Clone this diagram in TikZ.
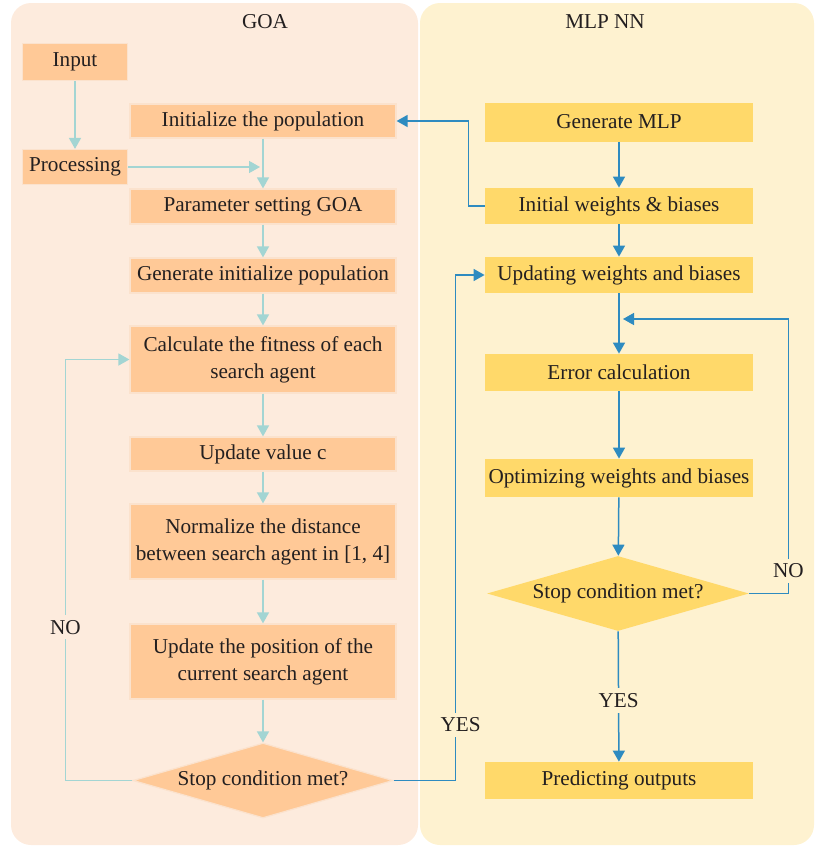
\documentclass[tikz,border=0pt]{standalone}
\usepackage{fontspec}
\setmainfont{Liberation Serif}
\usetikzlibrary{arrows.meta,shapes.geometric}
\definecolor{goabg}{HTML}{FDEBDD}
\definecolor{mlpbg}{HTML}{FEF2D0}
\definecolor{goabox}{HTML}{FFC997}
\definecolor{goaedge}{HTML}{FBE2CD}
\definecolor{mlpbox}{HTML}{FFD96A}
\definecolor{goaline}{HTML}{A3D5D3}
\definecolor{mlpline}{HTML}{2E8BC0}
\definecolor{inktext}{HTML}{231F20}

\begin{document}
\begin{tikzpicture}[x=0.5pt,y=-0.5pt,text=inktext,
  font=\fontsize{10.6}{13.5}\selectfont,
  gbox/.style={rectangle,fill=goabox,draw=goaedge,line width=0.6pt,align=center,inner sep=0pt,minimum width=133pt},
  mbox/.style={rectangle,fill=mlpbox,align=center,inner sep=0pt,minimum width=134pt},
  gdia/.style={diamond,aspect=3.5,inner sep=0pt,minimum width=130pt,minimum height=37.5pt,fill=goabox,draw=goaedge,line width=0.6pt},
  mdia/.style={diamond,aspect=3.5,inner sep=0pt,minimum width=131pt,minimum height=37.5pt,fill=mlpbox},
  garr/.style={draw=goaline,line width=0.75pt,-{Triangle[width=6pt,length=5.5pt]}},
  marr/.style={draw=mlpline,line width=0.75pt,-{Triangle[width=6pt,length=5.5pt]}},
  lbl/.style={inner sep=2.5pt}]
\useasboundingbox (0,0) rectangle (817,846);
% panels
\fill[goabg,rounded corners=10pt] (11,3) rectangle (418,845);
\fill[mlpbg,rounded corners=10pt] (420,3) rectangle (814,845);
\node (tgoa) at (265,22) {GOA};
\node (tmlp) at (605,22) {MLP NN};
% GOA side
\node[gbox,minimum width=52.5pt,minimum height=18.5pt] (inp) at (75,62) {Input};
\node[gbox,minimum width=52.5pt,minimum height=17.5pt] (proc) at (75,167) {Processing};
\node[gbox,minimum height=17pt] (init) at (263,121) {Initialize the population};
\node[gbox,minimum height=17.5pt] (par) at (263,206.5) {Parameter setting GOA};
\node[gbox,minimum height=17.5pt] (gen) at (263,275.5) {Generate initialize population};
\node[gbox,minimum height=33.5pt] (fit) at (263,359.5) {Calculate the fitness of each\\search agent};
\node[gbox,minimum height=17pt] (upc) at (263,454) {Update value c};
\node[gbox,minimum height=37.5pt] (norm) at (263,541.5) {Normalize the distance\\between search agent in [1, 4]};
\node[gbox,minimum height=37.5pt] (pos) at (263,661.5) {Update the position of the\\current search agent};
\node[gdia] (dgoa) at (263,780.5) {Stop condition met?};
\coordinate (gjoin) at (260,167);
% MLP side
\node[mbox,minimum height=19.5pt] (gmlp) at (619,122) {Generate MLP};
\node[mbox,minimum height=18pt] (iw) at (619,206) {Initial weights \& biases};
\node[mbox,minimum height=18pt] (upw) at (619,275) {Updating weights and biases};
\node[mbox,minimum height=18.5pt] (err) at (619,372.5) {Error calculation};
\node[mbox,minimum height=19pt] (opt) at (619,478) {Optimizing weights and biases};
\node[mdia] (dmlp) at (618,593.5) {Stop condition met?};
\node[mbox,minimum height=18.5pt] (pred) at (619,780.5) {Predicting outputs};
\coordinate (mjoin) at (623,319);
% GOA connectors
\draw[garr] (inp) -- (proc);
\draw[garr] (proc) -- (gjoin);
\draw[garr] (init) -- (par);
\draw[garr] (par) -- (gen);
\draw[garr] (gen) -- (fit);
\draw[garr] (fit) -- (upc);
\draw[garr] (upc) -- (norm);
\draw[garr] (norm) -- (pos);
\draw[garr] (pos) -- (dgoa);
\draw[garr] (dgoa.west) -- ++(-67,0) |- (fit.west) node[lbl,pos=0.182,fill=goabg] {NO};
% MLP connectors
\draw[marr] (gmlp) -- (iw);
\draw[marr] (iw.west) -- ++(-16,0) |- (init.east);
\draw[marr] (iw) -- (upw);
\draw[marr] (upw) -- (err);
\draw[marr] (err) -- (opt);
\draw[marr] (opt) -- (dmlp);
\draw[marr] (dmlp.east) -- ++(39,0) |- (mjoin) node[lbl,pos=0.041,fill=mlpbg] {NO};
\draw[marr] (dmlp) -- (pred) node[lbl,pos=0.53,fill=mlpbg] {YES};
\draw[marr] (dgoa.east) -- ++(62,0) |- (upw.west) node[lbl,pos=0.055,xshift=2.5pt,fill=mlpbg] {YES};
\end{tikzpicture}
\end{document}
